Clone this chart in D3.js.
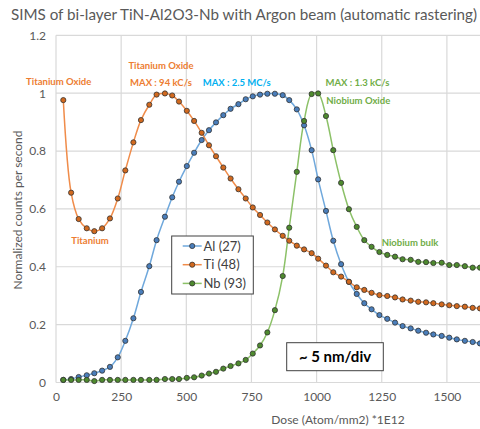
<!DOCTYPE html>
<html>
<head>
<meta charset="utf-8">
<script src="https://cdn.jsdelivr.net/npm/d3@7"></script>
<style>
  body { margin: 0; background: #fff; }
  text { font-family: Lato, "Liberation Sans", sans-serif; }
</style>
</head>
<body>
<script>
// dose values (Atom/mm2 *1E12)
var dose = [28, 58, 87, 118, 147, 177, 207, 237, 266, 297, 326, 358, 386, 418, 446, 472,
  502, 530, 559, 587, 614, 642, 670, 700, 728, 755, 783, 811, 840, 870, 895, 924, 952,
  981, 1006, 1036, 1064, 1094, 1124, 1154, 1183, 1211, 1241, 1271, 1301, 1330, 1361,
  1390, 1420, 1448, 1480, 1509, 1538, 1569, 1599, 1627];

var al = [0.009, 0.012, 0.019, 0.025, 0.032, 0.041, 0.054, 0.087, 0.144, 0.222, 0.313,
  0.402, 0.492, 0.573, 0.640, 0.694, 0.748, 0.794, 0.838, 0.872, 0.899, 0.924, 0.946,
  0.962, 0.979, 0.989, 0.995, 0.998, 0.998, 0.993, 0.976, 0.944, 0.889, 0.803, 0.702,
  0.593, 0.490, 0.409, 0.348, 0.306, 0.274, 0.253, 0.233, 0.220, 0.207, 0.195, 0.187,
  0.179, 0.172, 0.166, 0.161, 0.155, 0.149, 0.144, 0.140, 0.135];

var ti = [0.976, 0.656, 0.565, 0.533, 0.523, 0.533, 0.567, 0.636, 0.733, 0.830, 0.907,
  0.960, 0.995, 0.999, 0.992, 0.971, 0.939, 0.904, 0.863, 0.820, 0.782, 0.743, 0.705,
  0.668, 0.636, 0.605, 0.579, 0.553, 0.529, 0.507, 0.490, 0.473, 0.460, 0.447, 0.428,
  0.404, 0.381, 0.366, 0.348, 0.329, 0.320, 0.310, 0.302, 0.299, 0.294, 0.287, 0.283,
  0.279, 0.277, 0.274, 0.270, 0.267, 0.264, 0.262, 0.258, 0.256];

var nb = [0.009, 0.009, 0.009, 0.009, 0.005, 0.009, 0.009, 0.009, 0.009, 0.009, 0.009,
  0.009, 0.009, 0.012, 0.012, 0.012, 0.016, 0.018, 0.024, 0.031, 0.037, 0.048, 0.057,
  0.066, 0.078, 0.100, 0.128, 0.173, 0.250, 0.368, 0.535, 0.728, 0.904, 0.997, 0.999,
  0.921, 0.803, 0.690, 0.599, 0.538, 0.492, 0.469, 0.451, 0.441, 0.435, 0.426, 0.424,
  0.417, 0.416, 0.413, 0.414, 0.406, 0.406, 0.402, 0.397, 0.397];

var xTicks = [0, 250, 500, 750, 1000, 1250, 1500];
var yTicks = [0, 0.2, 0.4, 0.6, 0.8, 1, 1.2];

var series = [
  {name: 'Al (27)', values: al, line: '#6fa8dc', fill: '#4a7ebb'},
  {name: 'Ti (48)', values: ti, line: '#f08c4a', fill: '#d2691e'},
  {name: 'Nb (93)', values: nb, line: '#8cc168', fill: '#4e8a2e'}
];

var width = 480;
var height = 429;

var svg = d3.select('body').append('svg')
  .attr('width', width)
  .attr('height', height);

var x = d3.scaleLinear().domain([0, 1750]).range([56, 56 + 1750 * 0.2606]);
var y = d3.scaleLinear().domain([0, 1.2]).range([382.5, 35.3]);

// grid
svg.append('g').selectAll('line.h')
  .data(yTicks).enter().append('line')
  .attr('x1', 56).attr('x2', width)
  .attr('y1', function(d) { return y(d); })
  .attr('y2', function(d) { return y(d); })
  .attr('stroke', '#d9d9d9').attr('stroke-width', 1.2);

svg.append('g').selectAll('line.v')
  .data(xTicks).enter().append('line')
  .attr('x1', function(d) { return x(d); })
  .attr('x2', function(d) { return x(d); })
  .attr('y1', y(1.2)).attr('y2', y(0))
  .attr('stroke', '#d9d9d9').attr('stroke-width', 1.2);

// axes (text only, Excel style)
var yAxis = svg.append('g')
  .attr('transform', 'translate(46,0)')
  .call(d3.axisLeft(y).tickValues(yTicks).tickSize(0).tickPadding(0)
    .tickFormat(function(d) { return String(+d.toFixed(1)); }));
yAxis.select('.domain').remove();
yAxis.selectAll('text').attr('fill', '#595959').style('font-size', '12px')
  .style('font-family', 'Lato, sans-serif');

var xAxis = svg.append('g')
  .attr('transform', 'translate(0,392)')
  .call(d3.axisBottom(x).tickValues(xTicks).tickSize(0).tickPadding(0)
    .tickFormat(function(d) { return String(d); }));
xAxis.select('.domain').remove();
xAxis.selectAll('text').attr('fill', '#595959').style('font-size', '12px')
  .style('font-family', 'Lato, sans-serif');

// lines + markers
var line = d3.line()
  .x(function(d, i) { return x(dose[i]); })
  .y(function(d) { return y(d); })
  .curve(d3.curveCatmullRom.alpha(0.5));

series.forEach(function(s) {
  svg.append('path')
    .attr('d', line(s.values))
    .attr('fill', 'none')
    .attr('stroke', s.line)
    .attr('stroke-width', 1.5);
});

series.forEach(function(s) {
  svg.append('g').selectAll('circle')
    .data(s.values).enter().append('circle')
    .attr('cx', function(d, i) { return x(dose[i]); })
    .attr('cy', function(d) { return y(d); })
    .attr('r', 2.6)
    .attr('fill', s.fill)
    .attr('stroke', '#333')
    .attr('stroke-width', 0.8);
});

// titles
svg.append('text')
  .attr('x', 244).attr('y', 20)
  .attr('text-anchor', 'middle')
  .attr('fill', '#595959')
  .style('font-size', '15.2px')
  .text('SIMS of bi-layer TiN-Al2O3-Nb with Argon beam (automatic rastering)');

svg.append('text')
  .attr('transform', 'translate(22,210) rotate(-90)')
  .attr('text-anchor', 'middle')
  .attr('fill', '#595959')
  .style('font-size', '12px')
  .text('Normalized counts per second');

svg.append('text')
  .attr('x', 338).attr('y', 424)
  .attr('text-anchor', 'middle')
  .attr('fill', '#595959')
  .style('font-size', '12px')
  .text('Dose (Atom/mm2) *1E12');

// annotations
var notes = [
  {t: 'Titanium Oxide', x: 58.7, y: 84.5, c: '#ed7d31'},
  {t: 'Titanium', x: 90, y: 244, c: '#ed7d31'},
  {t: 'Titanium Oxide', x: 161, y: 69, c: '#ed7d31'},
  {t: 'MAX : 94 kC/s', x: 161, y: 85.5, c: '#ed7d31'},
  {t: 'MAX : 2.5 MC/s', x: 236.7, y: 86, c: '#00b0f0'},
  {t: 'MAX : 1.3 kC/s', x: 357.5, y: 86, c: '#70ad47'},
  {t: 'Niobium Oxide', x: 358.3, y: 103.5, c: '#70ad47'},
  {t: 'Niobium bulk', x: 410, y: 245.5, c: '#70ad47'}
];
svg.append('g').selectAll('text')
  .data(notes).enter().append('text')
  .attr('x', function(d) { return d.x; })
  .attr('y', function(d) { return d.y; })
  .attr('text-anchor', 'middle')
  .attr('fill', function(d) { return d.c; })
  .style('font-size', '9.5px')
  .style('font-weight', 'bold')
  .text(function(d) { return d.t; });

// legend
var legend = svg.append('g');
legend.append('rect')
  .attr('x', 171.7).attr('y', 236)
  .attr('width', 81.6).attr('height', 58)
  .attr('fill', '#fff').attr('stroke', '#404040').attr('stroke-width', 1);

series.forEach(function(s, i) {
  var ly = 246 + i * 18.7;
  legend.append('line')
    .attr('x1', 182.7).attr('x2', 201.7)
    .attr('y1', ly).attr('y2', ly)
    .attr('stroke', s.line).attr('stroke-width', 1.5);
  legend.append('circle')
    .attr('cx', 192.2).attr('cy', ly).attr('r', 2.6)
    .attr('fill', s.fill).attr('stroke', '#333').attr('stroke-width', 0.8);
  legend.append('text')
    .attr('x', 203.5).attr('y', ly + 4.5)
    .attr('fill', '#404040')
    .style('font-size', '13px')
    .text(s.name);
});

// scale note
svg.append('rect')
  .attr('x', 286.7).attr('y', 342.7)
  .attr('width', 96.6).attr('height', 28)
  .attr('fill', '#fff').attr('stroke', '#404040').attr('stroke-width', 1);
svg.append('text')
  .attr('x', 335).attr('y', 362)
  .attr('text-anchor', 'middle')
  .attr('fill', '#000')
  .style('font-size', '15px')
  .style('font-weight', 'bold')
  .text('~ 5 nm/div');
</script>
</body>
</html>
